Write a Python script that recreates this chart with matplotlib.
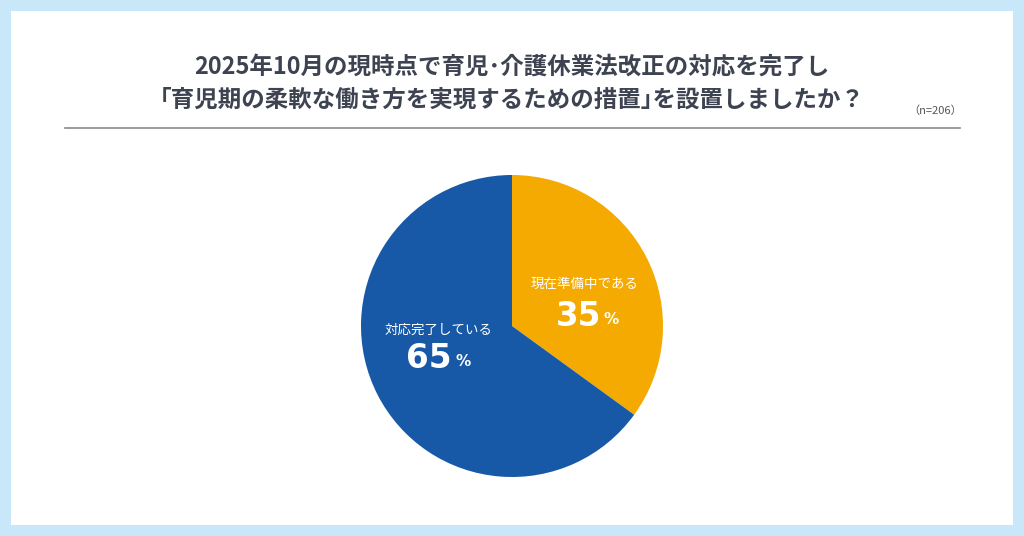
import matplotlib
matplotlib.use("Agg")
import matplotlib.pyplot as plt
from matplotlib.patches import Rectangle

plt.rcParams['font.family'] = ['Noto Sans CJK JP', 'DejaVu Sans']

title_lines = ["2025年10月の現時点で育児･介護休業法改正の対応を完了し",
               "｢育児期の柔軟な働き方を実現するための措置｣を設置しましたか？"]
note = "（n=206）"
labels = ["現在準備中である", "対応完了している"]
values = [35, 65]
colors = ["#f4aa00", "#1759a6"]

W, H = 1024, 536
fig = plt.figure(figsize=(W / 100, H / 100), dpi=100)
fig.patch.set_facecolor("#c8e7f8")

# white panel
fig.patches.append(Rectangle((11 / W, 11 / H), (1013 - 11) / W, (525 - 11) / H,
                             transform=fig.transFigure, facecolor="white",
                             edgecolor="none", zorder=-5))

fig.text(0.5, 1 - 67 / H, title_lines[0], ha="center", va="center",
         fontsize=16.9, fontweight="bold", color="#3d4350")
fig.text(0.5, 1 - 100 / H, title_lines[1], ha="center", va="center",
         fontsize=16.9, fontweight="bold", color="#3d4350")
fig.text(962 / W, 1 - 111 / H, note, ha="right", va="center",
         fontsize=8, color="#555555")

fig.add_artist(plt.Line2D([65 / W, 960 / W], [1 - 128 / H, 1 - 128 / H],
                          transform=fig.transFigure, color="#8a8a8a", lw=1.2))

cx, cy, r = 512, 326, 151
ax = fig.add_axes([(cx - r) / W, 1 - (cy + r) / H, 2 * r / W, 2 * r / H])
ax.set_zorder(5)
ax.pie(values, colors=colors, startangle=90, counterclock=False,
       wedgeprops=dict(linewidth=0))
ax.set_xlim(-1, 1)
ax.set_ylim(-1, 1)
ax.set_aspect("equal")
ax.axis("off")


def d(px, py):
    return (px - cx) / r, (cy - py) / r


# labels
pos = [((585, 284), (601, 316)), ((439, 330), (452, 359))]
for lab, val, ((lx, ly), (nx, ny)) in zip(labels, values, pos):
    ax.text(*d(lx, ly), lab, ha="center", va="center", fontsize=9.7, color="white")
    ax.text(*d(nx, ny), f"{val}", ha="right", va="center", fontsize=23.5,
            fontweight="bold", color="white", family=["DejaVu Sans"])
    ax.text(*d(nx + 3, ny + 3), "%", ha="left", va="center", fontsize=11,
            fontweight="bold", color="white", family=["DejaVu Sans"])

fig.savefig("out.png", dpi=100, facecolor=fig.get_facecolor())
